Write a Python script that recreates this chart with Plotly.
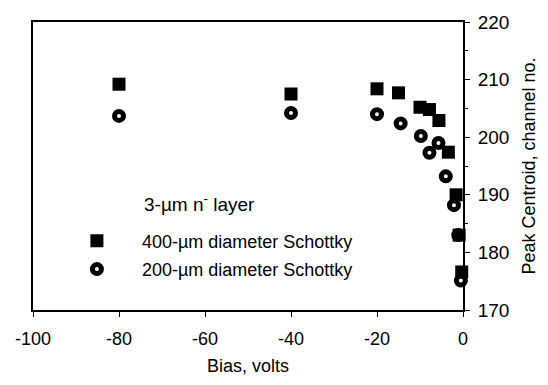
import plotly.graph_objects as go

bias_400 = [-80, -40, -20, -15, -10, -7.8, -5.6, -3.4, -1.6, -0.9, -0.3]
centroid_400 = [209.2, 207.5, 208.4, 207.7, 205.2, 204.8, 202.9, 197.4, 190.0, 183.0, 176.6]

bias_200 = [-80, -40, -20, -14.5, -9.8, -7.8, -5.7, -4.0, -2.1, -1.1, -0.5]
centroid_200 = [203.7, 204.2, 204.0, 202.4, 200.2, 197.3, 199.0, 193.2, 188.2, 183.0, 175.1]

x_ticks = [-100, -80, -60, -40, -20, 0]
y_ticks = [170, 180, 190, 200, 210, 220]

font = "Liberation Sans, Arial, sans-serif"

fig = go.Figure()
fig.add_trace(go.Scatter(
    x=bias_400, y=centroid_400, mode="markers", cliponaxis=False,
    name="400-\u00b5m diameter Schottky", legend="legend",
    marker=dict(symbol="square", size=13, color="black", line=dict(width=0)),
))
fig.add_trace(go.Scatter(
    x=bias_200, y=centroid_200, mode="markers", cliponaxis=False,
    name="200-\u00b5m diameter Schottky", legend="legend2",
    marker=dict(symbol="circle-open", size=9, color="black", line=dict(width=5, color="black")),
))

fig.add_annotation(
    x=0.253, y=0.372, xref="paper", yref="paper",
    text="3-\u00b5m n<sup>-</sup> layer", showarrow=False,
    xanchor="left", yanchor="middle",
    font=dict(family=font, size=19, color="black"),
)

leg_common = dict(
    xanchor="left", yanchor="middle",
    bgcolor="rgba(0,0,0,0)", font=dict(family=font, size=18, color="black"),
    itemwidth=80,
)

fig.update_layout(
    width=548, height=385,
    margin=dict(l=33, r=85, t=15, b=73),
    paper_bgcolor="white", plot_bgcolor="white",
    font=dict(family=font, size=18, color="black"),
    showlegend=True,
    legend=dict(x=0.044, y=0.239, **leg_common),
    legend2=dict(x=0.044, y=0.141, **leg_common),
    xaxis=dict(
        range=[-100, 0], tickvals=x_ticks, ticktext=[str(v) for v in x_ticks],
        showgrid=False, zeroline=False,
        showline=True, linecolor="black", linewidth=1.8, mirror=True,
        ticks="outside", ticklen=5, tickcolor="black", ticklabelstandoff=6,
        tickfont=dict(family=font, size=18),
        title=dict(text="Bias, volts", font=dict(family=font, size=18), standoff=12),
    ),
    yaxis=dict(
        range=[170, 220], tickvals=y_ticks, side="right",
        showgrid=False, zeroline=False,
        showline=True, linecolor="black", linewidth=1.8, mirror=True,
        ticks="outside", ticklen=5, tickcolor="black", ticklabelstandoff=4,
        tickfont=dict(family=font, size=19),
        minor=dict(dtick=5, ticks="outside", ticklen=3, tickcolor="black"),
        title=dict(text="Peak Centroid, channel no.", font=dict(family=font, size=18), standoff=14),
    ),
)

fig.write_html("out.html")
